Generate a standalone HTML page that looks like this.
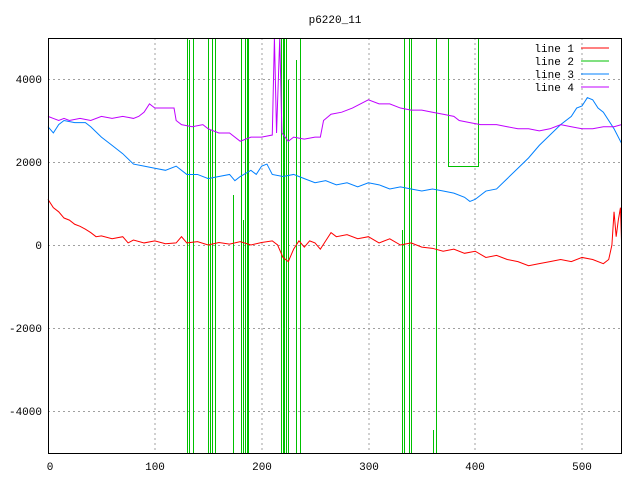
<!DOCTYPE html>
<html><head><style>body{margin:0;background:#fff}svg{display:block}text{font-family:"Liberation Mono",monospace;font-size:11px}</style></head>
<body>
<svg width="640" height="480" xmlns="http://www.w3.org/2000/svg">
<rect width="640" height="480" fill="#fff"/>
<text x="335" y="23" text-anchor="middle">p6220_11</text>
<g stroke="#a0a0a0" stroke-dasharray="2,3" stroke-width="1">
<line x1="155" y1="38" x2="155" y2="453"/><line x1="262" y1="38" x2="262" y2="453"/><line x1="369" y1="38" x2="369" y2="453"/><line x1="475" y1="38" x2="475" y2="453"/><line x1="582" y1="38" x2="582" y2="453"/>
<line x1="48" y1="79.5" x2="621" y2="79.5"/><line x1="48" y1="162.5" x2="621" y2="162.5"/><line x1="48" y1="245.5" x2="621" y2="245.5"/><line x1="48" y1="328.5" x2="621" y2="328.5"/><line x1="48" y1="411.5" x2="621" y2="411.5"/>
</g>
<g text-anchor="end">
<text x="42" y="83">4000</text><text x="42" y="166">2000</text><text x="42" y="249">0</text><text x="42" y="332">-2000</text><text x="42" y="415">-4000</text>
</g>
<g text-anchor="middle">
<text x="50" y="470">0</text><text x="155" y="470">100</text><text x="262" y="470">200</text><text x="369" y="470">300</text><text x="475" y="470">400</text><text x="582" y="470">500</text>
</g>
<g fill="none" stroke-width="1">
<g stroke="#00c000">
<line x1="187.5" y1="38" x2="187.5" y2="453"/>
<line x1="189.5" y1="40" x2="189.5" y2="453"/>
<line x1="193.5" y1="38" x2="193.5" y2="453"/>
<line x1="208.5" y1="38" x2="208.5" y2="453"/>
<line x1="210.5" y1="130" x2="210.5" y2="453"/>
<line x1="212.5" y1="38" x2="212.5" y2="453"/>
<line x1="215.5" y1="38" x2="215.5" y2="453"/>
<line x1="233.5" y1="195" x2="233.5" y2="453"/>
<line x1="241.5" y1="38" x2="241.5" y2="453"/>
<line x1="243.5" y1="220" x2="243.5" y2="453"/>
<line x1="245.5" y1="38" x2="245.5" y2="453"/>
<line x1="247.5" y1="38" x2="247.5" y2="453"/>
<line x1="248.5" y1="38" x2="248.5" y2="453"/>
<line x1="281.5" y1="38" x2="281.5" y2="453"/>
<line x1="283.5" y1="38" x2="283.5" y2="453"/>
<line x1="284.5" y1="38" x2="284.5" y2="453"/>
<line x1="286.5" y1="38" x2="286.5" y2="453"/>
<line x1="288.5" y1="80" x2="288.5" y2="453"/>
<line x1="296.5" y1="60" x2="296.5" y2="453"/>
<line x1="300.5" y1="38" x2="300.5" y2="453"/>
<line x1="402.5" y1="230" x2="402.5" y2="453"/>
<line x1="404.5" y1="38" x2="404.5" y2="453"/>
<line x1="409.5" y1="38" x2="409.5" y2="453"/>
<line x1="411.5" y1="38" x2="411.5" y2="453"/>
<line x1="433.5" y1="430" x2="433.5" y2="453"/>
<line x1="436.5" y1="38" x2="436.5" y2="453"/>
<polyline points="448.5,38 448.5,166.5 478.5,166.5 478.5,38"/>
</g>
<g transform="translate(48,245) scale(1.068,-0.0415)">
<polyline vector-effect="non-scaling-stroke" stroke="#ff0000" points="0,1100 5,900 10,800 15,650 20,600 25,500 30,450 35,380 40,300 45,200 50,220 60,150 70,200 75,50 80,120 90,50 100,100 110,30 120,50 125,200 130,50 140,80 150,0 160,60 170,20 180,80 190,0 200,60 210,100 215,0 220,-300 225,-400 230,-100 235,100 240,-50 245,100 250,50 255,-100 260,100 265,300 270,200 280,250 290,150 300,200 310,50 320,150 330,0 340,50 350,-50 360,-80 370,-150 380,-100 390,-200 400,-150 410,-300 420,-250 430,-350 440,-400 450,-500 460,-450 470,-400 480,-350 490,-400 500,-300 510,-350 520,-450 525,-350 528,0 530,800 532,200 534,600 536,900 537,100"/>
<polyline vector-effect="non-scaling-stroke" stroke="#0080ff" points="0,2850 5,2700 10,2900 15,3000 25,2950 35,2950 40,2850 50,2600 60,2400 70,2200 80,1950 90,1900 100,1850 110,1800 120,1900 130,1700 140,1700 150,1600 160,1650 170,1700 175,1550 180,1650 190,1800 195,1700 200,1900 205,1950 210,1700 220,1650 230,1700 240,1600 250,1500 260,1550 270,1450 280,1500 290,1400 300,1500 310,1450 320,1350 330,1400 340,1350 350,1300 360,1350 370,1300 380,1250 390,1150 395,1050 400,1100 410,1300 420,1350 430,1600 440,1850 450,2100 460,2400 470,2650 480,2900 490,3100 495,3300 500,3350 505,3550 510,3500 515,3300 520,3200 525,3000 530,2800 537,2450"/>
<polyline vector-effect="non-scaling-stroke" stroke="#c000ff" points="0,3100 5,3050 10,3000 15,3050 20,3000 30,3050 40,3000 50,3100 60,3050 70,3100 80,3050 85,3100 90,3200 95,3400 100,3300 110,3300 118,3300 120,3000 125,2900 135,2850 145,2900 150,2800 160,2700 170,2700 180,2500 190,2600 200,2600 210,2650 212,5000 214,2700 217,5000 219,2700 225,2500 230,2600 240,2550 250,2600 255,2600 258,3000 265,3150 275,3200 285,3300 300,3500 310,3400 320,3400 330,3300 340,3250 350,3250 360,3200 370,3150 380,3100 385,3000 395,2950 405,2900 420,2900 430,2850 440,2800 450,2800 460,2750 470,2800 480,2900 490,2850 500,2800 510,2800 520,2850 530,2850 537,2900"/>
</g>
</g>
<rect x="0" y="0" width="640" height="38" fill="#fff"/>
<text x="335" y="23" text-anchor="middle">p6220_11</text>
<rect x="48.5" y="38.5" width="573" height="415" fill="none" stroke="#000"/>
<g text-anchor="end">
<text x="574" y="52">line 1</text><text x="574" y="65">line 2</text><text x="574" y="78">line 3</text><text x="574" y="91">line 4</text>
</g>
<line x1="581" y1="48" x2="609" y2="48" stroke="#ff0000"/>
<line x1="581" y1="61" x2="609" y2="61" stroke="#00c000"/>
<line x1="581" y1="74" x2="609" y2="74" stroke="#0080ff"/>
<line x1="581" y1="87" x2="609" y2="87" stroke="#c000ff"/>
</svg>
</body></html>
